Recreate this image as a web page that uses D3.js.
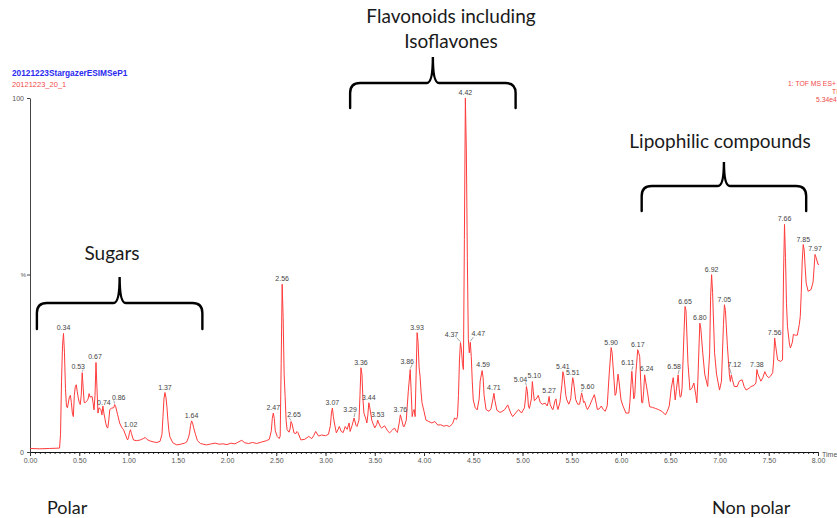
<!DOCTYPE html>
<html>
<head>
<meta charset="utf-8">
<script src="https://cdn.jsdelivr.net/npm/d3@7"></script>
<style>
  html, body { margin: 0; padding: 0; background: #fff; }
  svg { display: block; }
  .tick text { font-family: "Liberation Sans", Arial, sans-serif; }
</style>
</head>
<body>
<svg id="chart" width="837" height="518"></svg>
<script>
// Retention time (min) of each sampled point of the TIC trace
const traceTimes = [
  0.00,0.10,0.20,0.30,0.31,0.32,0.33,0.34,0.35,0.36,0.37,0.38,0.40,0.41,0.42,0.43,0.44,0.45,0.46,0.47,
  0.48,0.49,0.50,0.51,0.52,0.53,0.54,0.55,0.56,0.58,0.59,0.60,0.61,0.63,0.64,0.65,0.66,0.67,0.68,0.69,
  0.70,0.72,0.73,0.74,0.75,0.76,0.77,0.78,0.79,0.80,0.81,0.83,0.85,0.86,0.87,0.89,0.91,0.93,0.95,0.97,
  0.99,1.00,1.01,1.02,1.03,1.05,1.08,1.12,1.15,1.17,1.19,1.22,1.26,1.29,1.32,1.34,1.35,1.36,1.37,1.38,
  1.39,1.40,1.41,1.42,1.45,1.49,1.53,1.57,1.59,1.61,1.62,1.63,1.64,1.65,1.66,1.68,1.70,1.73,1.79,1.84,
  1.88,1.92,1.96,2.00,2.04,2.08,2.12,2.15,2.18,2.22,2.26,2.30,2.35,2.40,2.43,2.45,2.46,2.47,2.48,2.49,
  2.51,2.53,2.54,2.55,2.56,2.57,2.58,2.59,2.60,2.61,2.63,2.64,2.65,2.66,2.68,2.70,2.71,2.72,2.75,2.79,
  2.83,2.86,2.88,2.90,2.93,2.96,3.00,3.03,3.05,3.06,3.07,3.08,3.09,3.11,3.13,3.14,3.16,3.18,3.20,3.22,
  3.24,3.25,3.27,3.29,3.31,3.32,3.34,3.35,3.36,3.37,3.38,3.39,3.41,3.42,3.43,3.44,3.45,3.47,3.48,3.50,
  3.52,3.53,3.54,3.56,3.57,3.60,3.63,3.65,3.68,3.70,3.72,3.73,3.75,3.76,3.77,3.79,3.80,3.82,3.84,3.86,
  3.87,3.88,3.89,3.90,3.91,3.92,3.93,3.94,3.95,3.96,3.97,3.98,4.00,4.02,4.05,4.08,4.11,4.14,4.17,4.20,
  4.23,4.26,4.29,4.31,4.33,4.34,4.35,4.36,4.37,4.38,4.39,4.40,4.41,4.42,4.43,4.44,4.45,4.46,4.47,4.48,
  4.49,4.50,4.52,4.54,4.56,4.57,4.59,4.60,4.61,4.63,4.66,4.68,4.70,4.71,4.72,4.74,4.77,4.79,4.82,4.85,
  4.88,4.90,4.93,4.96,4.99,5.02,5.03,5.04,5.05,5.06,5.07,5.09,5.10,5.11,5.12,5.14,5.16,5.18,5.20,5.23,
  5.25,5.26,5.27,5.28,5.30,5.31,5.33,5.34,5.35,5.36,5.38,5.40,5.41,5.42,5.44,5.45,5.47,5.49,5.50,5.51,
  5.52,5.54,5.56,5.58,5.60,5.61,5.62,5.63,5.65,5.66,5.68,5.71,5.73,5.75,5.76,5.78,5.80,5.82,5.84,5.86,
  5.88,5.90,5.91,5.93,5.94,5.95,5.97,5.98,6.00,6.02,6.05,6.08,6.09,6.11,6.12,6.13,6.14,6.15,6.17,6.18,
  6.19,6.20,6.21,6.22,6.23,6.24,6.25,6.27,6.29,6.32,6.35,6.38,6.42,6.45,6.47,6.49,6.51,6.53,6.54,6.55,
  6.56,6.58,6.59,6.60,6.61,6.62,6.64,6.65,6.66,6.68,6.70,6.72,6.74,6.76,6.77,6.78,6.80,6.81,6.83,6.85,
  6.88,6.90,6.91,6.92,6.93,6.95,6.97,7.00,7.02,7.04,7.05,7.06,7.08,7.10,7.11,7.12,7.13,7.15,7.18,7.20,
  7.23,7.25,7.27,7.30,7.32,7.35,7.37,7.38,7.39,7.42,7.44,7.46,7.48,7.50,7.52,7.54,7.55,7.56,7.57,7.59,
  7.62,7.64,7.65,7.66,7.67,7.68,7.69,7.71,7.72,7.74,7.75,7.77,7.79,7.81,7.82,7.83,7.84,7.85,7.86,7.87,
  7.88,7.90,7.93,7.95,7.97,7.98,8.00,8.01
];

// Relative intensity (%) at each of those times
const traceIntensity = [
  1.0,0.9,1.0,1.1,5,20,30,33.5,28,18,13,12.5,15.5,16,14,11,10,16,18.5,19,
  17,15.3,14,13.4,16,22.4,18,14,13.9,14.5,15,16.5,15.5,15.7,14,11.9,16,25.3,18,11,
  12.5,12,10.5,13,11,9.5,8,7,6.8,9,12,12.4,12.5,13.4,12.8,10.5,8.2,7,6.3,4.8,
  3.4,4,5.5,6.3,5.2,3.4,3.2,3.4,3.8,4.1,3.5,3.1,2.8,2.7,3.0,5,10,15,16.8,15.5,
  12.8,9,6,4.3,2.6,2.0,2.2,2.5,2.8,4.2,5.4,7.5,8.8,8.3,7,5,3.2,2.4,2.0,2.3,
  2.5,2.2,2.3,2.1,2.5,2.3,2.9,3.3,2.6,2.4,2.7,2.4,2.8,3.2,3.6,6,9.5,11,9.5,6,
  4.4,3.8,4.5,25,47.4,38,22,15.7,9,6.3,5.6,6.5,8.6,8,5.4,5.2,5.8,5.5,3.4,3.6,
  4.4,3.8,4.6,5.8,4.5,4.8,4.6,5,7.5,11,12.4,10,8.2,5.4,6.5,7.2,5.8,5.5,7.2,6.4,
  8.2,5.8,7.5,9.6,7.5,7.2,9,16,23.8,22,15,11,9.3,8.2,10.5,13.9,12.5,9,8.2,6.8,
  7.8,9,8.2,7,6.8,7.4,6,5.4,6.2,6.8,5.8,5.5,8.5,10.5,9.5,7.2,7.2,9,17,23.3,
  17,10,11.5,12,10,22,33.7,31,24,21.4,17,13.9,11.5,9,8.6,8.2,8.6,7.6,7.7,7.3,
  7.5,7.2,8,9.6,9.2,10,16,26,30.9,29,25,23.3,60,100,85,55,32,28,31,27,
  20,14.7,12.5,11.9,15,20,23,21,16,12,11.5,12.2,15,16.6,14.5,11.8,11.2,11.4,12,13.3,
  11,10,11,12,11,12.5,15,18.5,17,13,12.3,15,19.9,17,14.5,15,16,14,13.5,13.8,
  13,14,15.7,13.5,12.2,12,14.5,15,13,12,14,19,22.7,21.5,16,14.7,13.5,15,18.5,21,
  19.5,14.8,13.5,13.5,16.7,15.5,14,14.3,12.5,12,13,15,16.2,13.5,12,12.2,13,12,11.5,13,
  22,29.5,28,20,16,16.5,22,20,14.7,13,11,11,14,22.8,19,15,16,22,28.9,28,
  27,20,14,13.9,17,21.8,20,16.7,12.8,12.6,12.3,12,11.4,10.5,11.5,13,18,21,18,14.7,
  17,21.8,18,15.5,15.7,18,34,41.1,40,25,17.5,18,19.5,16,13.9,20,36.4,35,28,22,
  18.5,28,44,50.1,45,28,22,17.5,20,36,41.6,40,30,22,19.9,21.8,20.5,18.5,18.5,20,
  20.4,18.5,17.5,18,18.5,18.8,19.5,23.3,22,20,21,22.7,21.5,21,21.5,22.4,26,32.2,30,26,
  25.6,26,50,64.3,55,42,35.5,30.5,29.4,31,33.2,33,33,36,38.3,45,54,58.6,57,52,
  47.7,45.4,45.9,48,55.8,55,53,53
];

// Retention times annotated on the chromatogram
const peakLabels = [
  "0.34","0.53","0.67","0.74","0.86","1.02","1.37","1.64",
  "2.47","2.56","2.65","3.07","3.29","3.36","3.44","3.53","3.76","3.86","3.93",
  "4.37","4.42","4.47","4.59","4.71","5.04","5.10","5.27","5.41","5.51","5.60",
  "5.90","6.11","6.17","6.24","6.58","6.65","6.80","6.92","7.05","7.12","7.38",
  "7.56","7.66","7.85","7.97"
];

// X axis tick labels (min)
const xTickLabels = ["0.00","0.50","1.00","1.50","2.00","2.50","3.00","3.50","4.00",
                     "4.50","5.00","5.50","6.00","6.50","7.00","7.50","8.00"];

// Y axis tick labels (%)
const yTickLabels = ["0", "100"];

// Group annotations: text lines and the time span each brace covers
const groupNames = [["Sugars"], ["Flavonoids including", "Isoflavones"], ["Lipophilic compounds"]];
const groupSpans = [[0.07, 1.75], [3.25, 4.93], [6.21, 7.88]];

// ---- layout ----
const svg = d3.select("#chart");
const x = d3.scaleLinear().domain([0, 8]).range([30, 818]);
const y = d3.scaleLinear().domain([0, 100]).range([452, 98]);
const labelFont = '"Liberation Sans", Arial, sans-serif';
const noteFont = 'Lato, "Open Sans", sans-serif';

// small per-label shifts so neighbouring retention times stay readable
const labelNudge = {
  "0.53": [-4, -1], "0.67": [-1, 0], "0.74": [1, 2], "0.86": [4, -2],
  "2.65": [3, -2], "3.29": [-4, -3], "3.86": [-3, -3], "4.37": [-9, -3],
  "4.47": [8, -3], "4.59": [1, -1], "5.04": [-6, -2], "5.10": [2, -1],
  "5.60": [6, -1], "6.11": [-4, -3], "6.24": [2, -1], "6.58": [-4, -3],
  "7.12": [3, -5]
};

// ---- header text ----
svg.append("text").attr("x", 12).attr("y", 76)
  .attr("font-family", labelFont).attr("font-size", 8.3).attr("font-weight", "bold")
  .attr("fill", "#2a2af0").text("20121223StargazerESIMSeP1");
svg.append("text").attr("x", 12).attr("y", 87)
  .attr("font-family", labelFont).attr("font-size", 7.5)
  .attr("fill", "#f24a4a").text("20121223_20_1");
[["1: TOF MS ES+", 788, 86], ["TIC", 832, 94], ["5.34e4", 816, 102]].forEach(([t, tx, ty]) => {
  svg.append("text").attr("x", tx).attr("y", ty)
    .attr("font-family", labelFont).attr("font-size", 6.8)
    .attr("fill", "#f24a4a").text(t);
});

// ---- axes ----
const xMinor = svg.append("g").attr("transform", "translate(0,452)")
  .call(d3.axisBottom(x).tickValues(d3.range(0, 8.001, 0.05)).tickSize(2).tickFormat(""));
xMinor.select(".domain").remove();
xMinor.selectAll(".tick line").attr("stroke", "#333");

const xAxis = svg.append("g").attr("transform", "translate(0,452)")
  .call(d3.axisBottom(x).tickValues(xTickLabels.map(Number)).tickSize(4).tickSizeOuter(0)
    .tickFormat((d, i) => xTickLabels[i]));
xAxis.select(".domain").attr("stroke", "#111").attr("stroke-width", 1.2);
xAxis.selectAll(".tick line").attr("stroke", "#333");
xAxis.selectAll(".tick text").attr("font-size", 7).attr("fill", "#555").attr("dy", "0.55em");

const yAxis = svg.append("g").attr("transform", "translate(30,0)")
  .call(d3.axisLeft(y).tickValues(yTickLabels.map(Number)).tickSize(3).tickSizeOuter(0)
    .tickFormat((d, i) => yTickLabels[i]));
yAxis.select(".domain").attr("stroke", "#444");
yAxis.selectAll(".tick line").attr("stroke", "#444");
yAxis.selectAll(".tick text").attr("font-size", 7).attr("fill", "#555");

// percent marker half way up the intensity axis
svg.append("line").attr("x1", 27).attr("x2", 30).attr("y1", y(50)).attr("y2", y(50)).attr("stroke", "#444");
svg.append("text").attr("x", 26).attr("y", y(50) + 2).attr("text-anchor", "end")
  .attr("font-family", labelFont).attr("font-size", 6).attr("fill", "#555").text("%");

svg.append("text").attr("x", 822).attr("y", 457)
  .attr("font-family", labelFont).attr("font-size", 7).attr("fill", "#555").text("Time");

// ---- chromatogram trace ----
const pts = traceTimes.map((t, i) => [t, traceIntensity[i]]);
svg.append("path")
  .datum(pts)
  .attr("fill", "none")
  .attr("stroke", "#ff3b3b")
  .attr("stroke-width", 1)
  .attr("stroke-linejoin", "round")
  .attr("d", d3.line().x(d => x(d[0])).y(d => y(d[1])));

// ---- peak labels ----
const peakG = svg.append("g");
peakLabels.forEach(lbl => {
  const t = +lbl;
  const idx = d3.minIndex(traceTimes, tt => Math.abs(tt - t));
  const px = x(t), py = y(traceIntensity[idx]);
  const [dx, dy] = labelNudge[lbl] || [0, 0];
  const lx = px + dx, ly = py - 3 + dy;
  if (Math.abs(dx) > 2) {
    peakG.append("line")
      .attr("x1", px).attr("y1", py - 1)
      .attr("x2", lx + (dx > 0 ? -5 : 5)).attr("y2", ly + 1)
      .attr("stroke", "#666").attr("stroke-width", 0.6);
  }
  peakG.append("text")
    .attr("x", lx).attr("y", ly)
    .attr("text-anchor", "middle")
    .attr("font-family", labelFont).attr("font-size", 7)
    .attr("fill", "#444").text(lbl);
});

// ---- curly braces with group names ----
function bracePath(x1, x2, yEnd, yBar, yTip) {
  const cx = (x1 + x2) / 2, r = 10, r2 = 6;
  return `M${x1},${yEnd} L${x1},${yBar + r} Q${x1},${yBar} ${x1 + r},${yBar}` +
         ` L${cx - r2},${yBar} Q${cx},${yBar} ${cx},${yTip}` +
         ` Q${cx},${yBar} ${cx + r2},${yBar} L${x2 - r},${yBar}` +
         ` Q${x2},${yBar} ${x2},${yBar + r} L${x2},${yEnd}`;
}
const braceRows = [
  { yEnd: 329, yBar: 303, yTip: 277, textX: 112, textY: [260] },
  { yEnd: 108, yBar: 83, yTip: 57, textX: 451, textY: [23, 48] },
  { yEnd: 211, yBar: 186, yTip: 162, textX: 720, textY: [148] }
];
groupSpans.forEach((span, i) => {
  const b = braceRows[i];
  const x1 = x(span[0]), x2 = x(span[1]);
  svg.append("path")
    .attr("d", bracePath(x1, x2, b.yEnd, b.yBar, b.yTip))
    .attr("fill", "none").attr("stroke", "#000").attr("stroke-width", 2.4)
    .attr("stroke-linecap", "round");
  groupNames[i].forEach((line, j) => {
    svg.append("text")
      .attr("x", b.textX).attr("y", b.textY[j])
      .attr("text-anchor", "middle")
      .attr("font-family", noteFont).attr("font-size", 19)
      .attr("fill", "#1a1a1a").text(line);
  });
});

// polarity ends of the gradient
svg.append("text").attr("x", 47).attr("y", 514)
  .attr("font-family", noteFont).attr("font-size", 18).attr("fill", "#1a1a1a").text("Polar");
svg.append("text").attr("x", 712).attr("y", 514)
  .attr("font-family", noteFont).attr("font-size", 18).attr("fill", "#1a1a1a").text("Non polar");
</script>
</body>
</html>
